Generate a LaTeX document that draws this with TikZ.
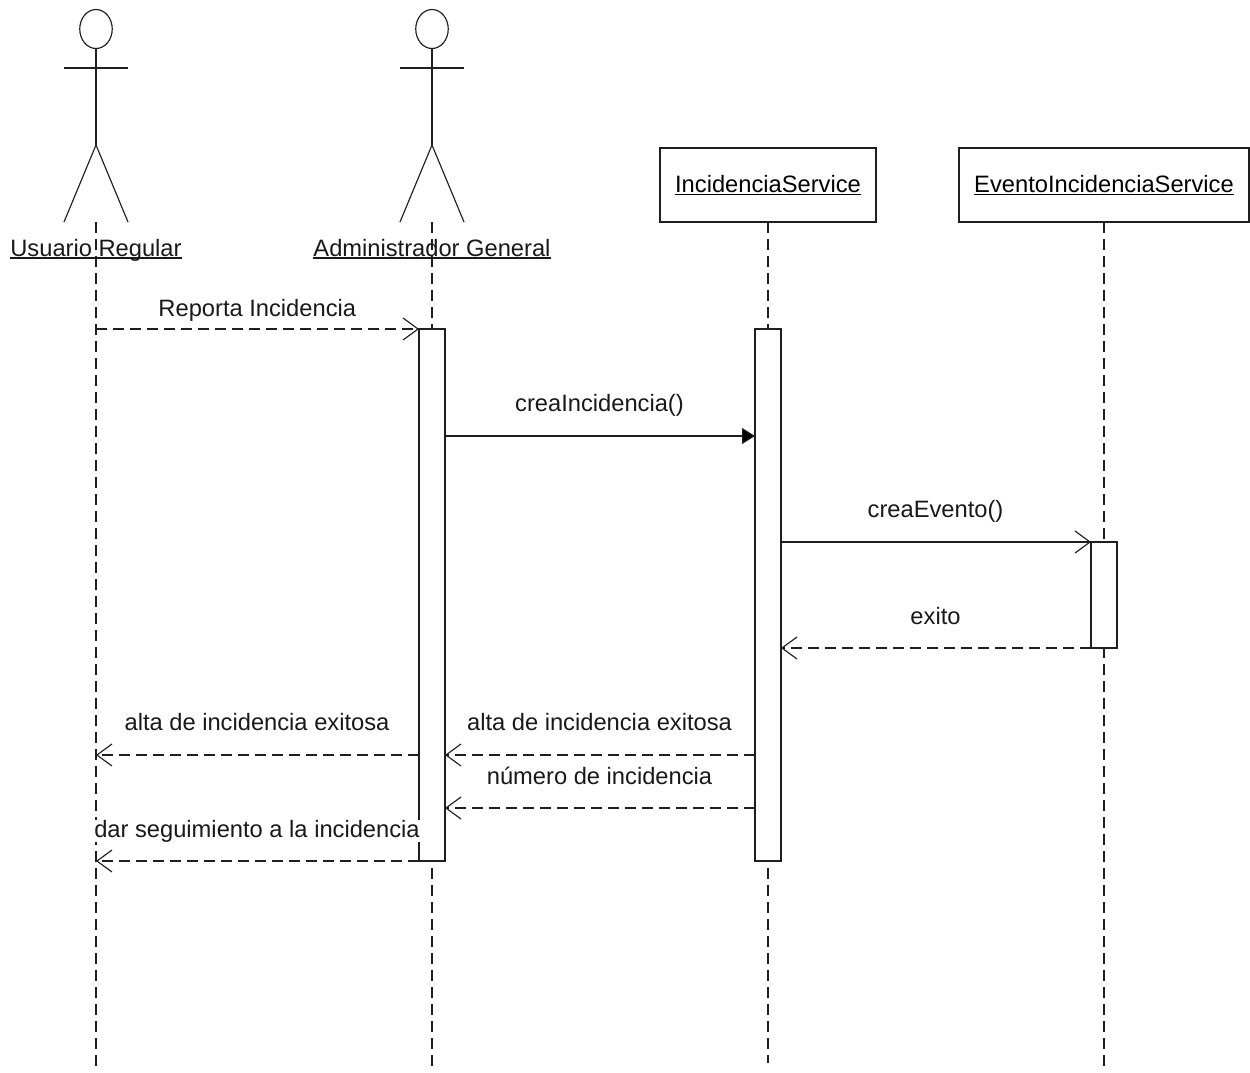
\documentclass[tikz,border=0pt]{standalone}
\usepackage{fontspec}
\setmainfont{Liberation Sans}
\usetikzlibrary{arrows.meta,shapes.geometric}
\newcommand{\ulabel}[1]{\setbox0=\hbox{#1}\rlap{\rule[-2.6pt]{\wd0}{1.2pt}}#1}
\tikzset{
  ln/.style={line width=1.15pt,draw=black!88},
  lifeline/.style={ln,dash pattern=on 11pt off 6pt},
  actorpart/.style={ln},
  head/.style={ln,ellipse,minimum width=32.5pt,minimum height=39pt,inner sep=0pt,outer sep=0pt},
  objbox/.style={ln,fill=white,inner sep=0pt,outer sep=0pt,minimum height=74pt,font=\fontsize{23.7pt}{26pt}\selectfont},
  bar/.style={ln,fill=white,inner sep=0pt,outer sep=0pt,minimum width=26pt},
  txt/.style={inner sep=0pt,font=\fontsize{23.7pt}{26pt}\selectfont,text=black!90},
  open/.style={ln,-{Straight Barb[length=15pt,width=22pt,line width=1.15pt]}},
  opendash/.style={open,dash pattern=on 11pt off 6pt},
  solidtip/.style={ln,-{Triangle[length=13pt,width=16pt,fill=black]}}
}
\begin{document}
\begin{tikzpicture}[x=1pt,y=-1pt]
\useasboundingbox (0,0) rectangle (1250,1072);
% lifeline ends
\coordinate (e1s) at (96,222);  \coordinate (e1e) at (96,1072);
\coordinate (e2s) at (432,222); \coordinate (e2e) at (432,1072);
\coordinate (e3e) at (768,1063);
\coordinate (e4e) at (1104,1072);
% objects
\node[objbox,minimum width=216pt] (svc) at (768,185) {\ulabel{IncidenciaService}};
\node[objbox,minimum width=290pt] (evt) at (1104,185) {\ulabel{EventoIncidenciaService}};
% lifelines
\draw[lifeline] (e1s) -- (e1e);
\draw[lifeline] (e2s) -- (e2e);
\draw[lifeline] (svc.south) -- (e3e);
\draw[lifeline] (evt.south) -- (e4e);
% actor 1
\node[head] (h1) at (96,29) {};
\coordinate (a1l) at (64,68); \coordinate (a1r) at (128,68);
\coordinate (a1h) at (96,145); \coordinate (a1fl) at (64,222); \coordinate (a1fr) at (128,222);
\draw[actorpart] (h1.south) -- (a1h);
\draw[actorpart] (a1l) -- (a1r);
\draw[actorpart] (a1fl) -- (a1h) -- (a1fr);
% actor 2
\node[head] (h2) at (432,29) {};
\coordinate (a2l) at (400,68); \coordinate (a2r) at (464,68);
\coordinate (a2h) at (432,145); \coordinate (a2fl) at (400,222); \coordinate (a2fr) at (464,222);
\draw[actorpart] (h2.south) -- (a2h);
\draw[actorpart] (a2l) -- (a2r);
\draw[actorpart] (a2fl) -- (a2h) -- (a2fr);
% actor labels
\node[txt,anchor=base] (l1) at (96,256) {\ulabel{Usuario Regular}};
\node[txt,anchor=base] (l2) at (432,256) {\ulabel{Administrador General}};
% activations
\node[bar,minimum height=532pt] (b2) at (432,595) {};
\node[bar,minimum height=532pt] (b3) at (768,595) {};
\node[bar,minimum height=106pt] (b4) at (1104,595) {};
% message levels
\coordinate (m1) at (0,329);
\coordinate (m2) at (0,436);
\coordinate (m3) at (0,542);
\coordinate (m4) at (0,648);
\coordinate (m5) at (0,755);
\coordinate (m6) at (0,808);
\coordinate (m7) at (0,861);
% messages
\draw[opendash] (e1s |- m1) -- (b2.west |- m1);
\draw[solidtip] (b2.east |- m2) -- (b3.west |- m2);
\draw[open] (b3.east |- m3) -- (b4.west |- m3);
\draw[opendash] (b4.west |- m4) -- (b3.east |- m4);
\draw[opendash] (b3.west |- m5) -- (b2.east |- m5);
\draw[opendash] (b3.west |- m6) -- (b2.east |- m6);
\draw[opendash] (b2.west |- m5) -- (e1s |- m5);
\draw[opendash] (b2.west |- m7) -- (e1s |- m7);
% message labels
\node[txt,anchor=base] (t1) at (257.3,316) {Reporta Incidencia};
\node[txt,anchor=base] (t2) at (599.5,411) {creaIncidencia()};
\node[txt,anchor=base] (t3) at (935.5,517) {creaEvento()};
\node[txt,anchor=base] (t4) at (935.5,624) {exito};
\node[txt,anchor=base] (t5) at (599.5,730) {alta de incidencia exitosa};
\node[txt,anchor=base] (t6) at (599.5,784) {número de incidencia};
\node[txt,anchor=base] (t7) at (257,730) {alta de incidencia exitosa};
\node[txt,anchor=base,fill=white] (t8) at (257,837) {dar seguimiento a la incidencia};
\end{tikzpicture}
\end{document}
